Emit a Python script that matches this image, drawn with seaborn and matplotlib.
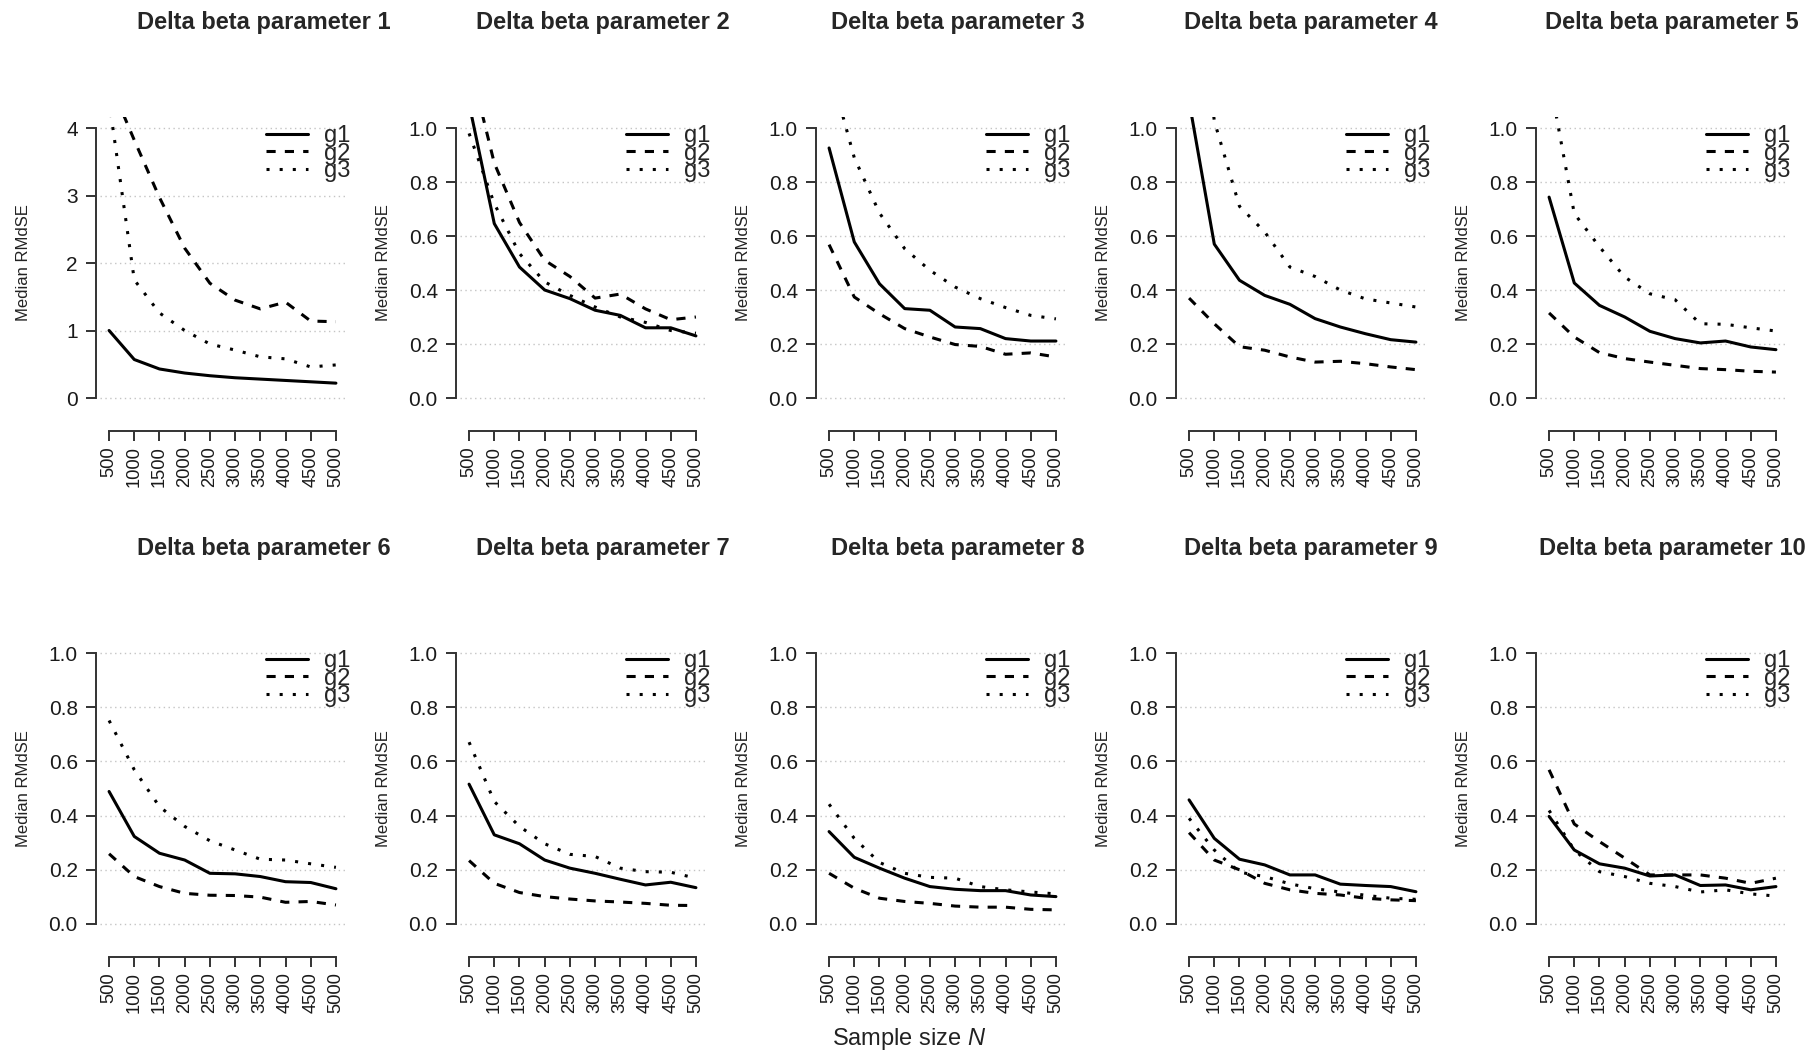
import matplotlib
matplotlib.use("Agg")
import matplotlib.pyplot as plt
import seaborn as sns
import pandas as pd

# ---------------- data ----------------
n_sizes = [500, 1000, 1500, 2000, 2500, 3000, 3500, 4000, 4500, 5000]
groups = ["g1", "g2", "g3"]
titles = [f"Delta beta parameter {i}" for i in range(1, 11)]

g1_values = [
    [1.00, 0.57, 0.43, 0.37, 0.33, 0.30, 0.28, 0.26, 0.24, 0.22],
    [1.09, 0.646, 0.485, 0.40, 0.368, 0.325, 0.306, 0.26, 0.26, 0.23],
    [0.926, 0.578, 0.423, 0.331, 0.325, 0.263, 0.257, 0.22, 0.211, 0.211],
    [1.10, 0.57, 0.436, 0.38, 0.347, 0.294, 0.263, 0.238, 0.216, 0.207],
    [0.744, 0.426, 0.343, 0.30, 0.247, 0.22, 0.204, 0.211, 0.189, 0.179],
    [0.489, 0.323, 0.261, 0.236, 0.187, 0.185, 0.175, 0.156, 0.153, 0.13],
    [0.516, 0.329, 0.296, 0.236, 0.206, 0.187, 0.165, 0.144, 0.154, 0.134],
    [0.341, 0.246, 0.206, 0.169, 0.138, 0.128, 0.123, 0.123, 0.107, 0.101],
    [0.458, 0.316, 0.239, 0.218, 0.181, 0.181, 0.147, 0.142, 0.138, 0.119],
    [0.397, 0.273, 0.222, 0.206, 0.177, 0.181, 0.142, 0.144, 0.126, 0.138],
]
g2_values = [
    [4.7, 3.82, 2.97, 2.22, 1.70, 1.45, 1.32, 1.42, 1.14, 1.13],
    [1.25, 0.87, 0.65, 0.51, 0.45, 0.37, 0.385, 0.33, 0.29, 0.30],
    [0.568, 0.374, 0.312, 0.257, 0.226, 0.198, 0.191, 0.162, 0.167, 0.152],
    [0.37, 0.275, 0.19, 0.177, 0.152, 0.133, 0.136, 0.127, 0.115, 0.105],
    [0.315, 0.226, 0.168, 0.146, 0.133, 0.121, 0.109, 0.105, 0.099, 0.096],
    [0.259, 0.175, 0.138, 0.113, 0.106, 0.105, 0.099, 0.08, 0.083, 0.07],
    [0.234, 0.15, 0.116, 0.101, 0.092, 0.085, 0.081, 0.076, 0.069, 0.068],
    [0.187, 0.132, 0.095, 0.083, 0.076, 0.066, 0.062, 0.062, 0.054, 0.052],
    [0.337, 0.236, 0.2, 0.15, 0.126, 0.113, 0.107, 0.095, 0.089, 0.086],
    [0.569, 0.369, 0.304, 0.243, 0.181, 0.181, 0.181, 0.169, 0.15, 0.169],
]
g3_values = [
    [4.4, 1.75, 1.26, 1.00, 0.80, 0.71, 0.61, 0.58, 0.46, 0.49],
    [0.98, 0.72, 0.535, 0.43, 0.38, 0.337, 0.30, 0.28, 0.25, 0.24],
    [1.23, 0.89, 0.685, 0.553, 0.473, 0.411, 0.368, 0.335, 0.306, 0.293],
    [1.9, 1.026, 0.71, 0.615, 0.485, 0.45, 0.40, 0.367, 0.352, 0.337],
    [1.19, 0.683, 0.56, 0.448, 0.386, 0.364, 0.275, 0.273, 0.26, 0.248],
    [0.751, 0.569, 0.433, 0.36, 0.307, 0.273, 0.239, 0.236, 0.222, 0.209],
    [0.671, 0.452, 0.36, 0.296, 0.257, 0.249, 0.206, 0.193, 0.191, 0.169],
    [0.442, 0.316, 0.227, 0.187, 0.172, 0.169, 0.138, 0.126, 0.118, 0.111],
    [0.39, 0.273, 0.191, 0.175, 0.148, 0.13, 0.118, 0.106, 0.095, 0.091],
    [0.419, 0.273, 0.193, 0.175, 0.15, 0.138, 0.118, 0.126, 0.111, 0.103],
]
yticks_param1 = [0, 1, 2, 3, 4]
yticks_other = [0.0, 0.2, 0.4, 0.6, 0.8, 1.0]

# ---------------- style ----------------
sns.set_style("ticks")
plt.rcParams["font.family"] = ["Liberation Sans", "DejaVu Sans"]
plt.rcParams["mathtext.fontset"] = "custom"
plt.rcParams["mathtext.rm"] = "Liberation Sans"
plt.rcParams["mathtext.it"] = "Liberation Sans:italic"

W, H = 1816, 1054
fig = plt.figure(figsize=(W / 100, H / 100), dpi=100)

line_styles = {"g1": "-", "g2": (0, (3, 3)), "g3": (0, (1, 3.3))}
spine_col = "#333333"
title_centers = [264, 603, 958, 1311, 1672]

for k in range(10):
    row, col = divmod(k, 5)
    left = 100 + 360 * col
    if row == 0:
        top, bot = 117.2, 408.8
    else:
        top, bot = 642.2, 934.8
    ax = fig.add_axes([left / W, 1 - bot / H, 245 / W, (bot - top) / H])

    yt = yticks_param1 if k == 0 else yticks_other
    ymax = yt[-1]

    df = pd.DataFrame({
        "N": n_sizes * 3,
        "RMdSE": g1_values[k] + g2_values[k] + g3_values[k],
        "group": [g for g in groups for _ in n_sizes],
    })

    ax.grid(axis="y", color="#c4c4c4", linestyle=(0, (1, 2.5)), linewidth=1.0, zorder=0)
    ax.grid(axis="x", visible=False)

    for g in groups:
        sns.lineplot(data=df[df["group"] == g], x="N", y="RMdSE", ax=ax,
                     color="black", linewidth=2.2, linestyle=line_styles[g],
                     label=g, errorbar=None)

    ax.set_xlim(320, 5180)
    ax.set_ylim(-0.04 * ymax, 1.04 * ymax)
    ax.set_xticks(n_sizes)
    ax.set_xticklabels([str(n) for n in n_sizes])
    ax.set_yticks(yt)
    if k == 0:
        ax.set_yticklabels([str(v) for v in yt])
    else:
        ax.set_yticklabels([f"{v:.1f}" for v in yt])

    for s in ["top", "right"]:
        ax.spines[s].set_visible(False)
    ax.spines["left"].set_position(("outward", 3))
    ax.spines["bottom"].set_position(("outward", 16))
    ax.spines["left"].set_bounds(0, ymax)
    ax.spines["bottom"].set_bounds(500, 5000)
    for s in ["left", "bottom"]:
        ax.spines[s].set_color(spine_col)
        ax.spines[s].set_linewidth(1.4)

    ax.tick_params(axis="both", direction="out", length=7, width=1.4,
                   color=spine_col, labelcolor="#1a1a1a")
    ax.tick_params(axis="y", pad=6, labelsize=15)
    ax.tick_params(axis="x", pad=4, labelrotation=90, labelsize=13.2)

    ax.set_xlabel("")
    ax.set_ylabel("Median RMdSE", fontsize=12, color="#222222")
    ax.yaxis.set_label_coords(-0.28, 0.5)

    leg = ax.legend(loc="upper right", bbox_to_anchor=(1.03, 0.98), frameon=False,
                    fontsize=17, handlelength=1.78, handletextpad=0.68,
                    labelspacing=-0.2, borderaxespad=0.1, borderpad=0.0)
    for h in leg.legend_handles:
        h.set_linewidth(2.2)

    fig.text(title_centers[col] / W, 1 - (23 if row == 0 else 548) / H, titles[k],
             ha="center", va="center", fontsize=17, fontweight="bold")

fig.text(909 / W, 1 - 1039 / H, r"Sample size $\it{N}$", ha="center", va="center",
         fontsize=17, color="#222222")

fig.savefig("out.png", dpi=100)
